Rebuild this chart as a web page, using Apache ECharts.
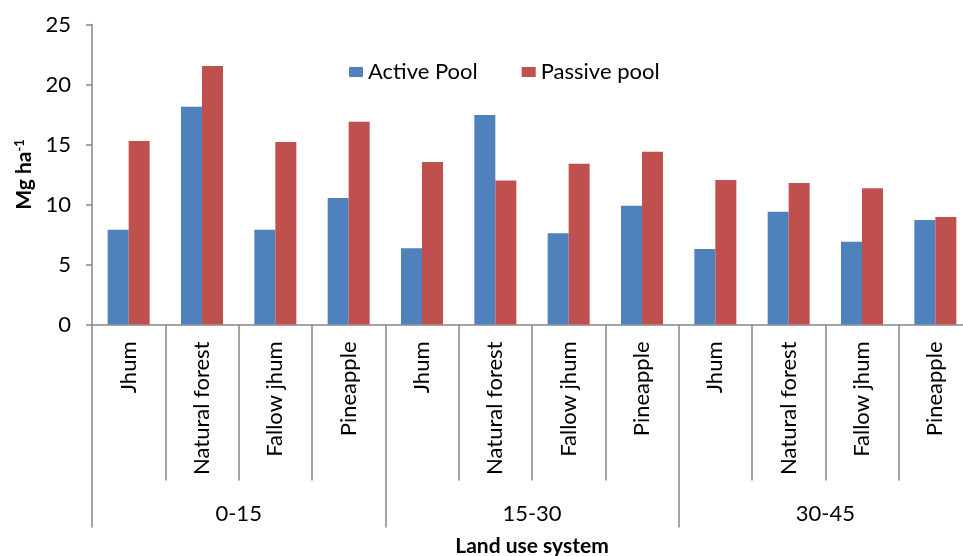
<!DOCTYPE html>
<html>
<head>
<meta charset="utf-8">
<script src="https://cdn.jsdelivr.net/npm/echarts@6/dist/echarts.min.js"></script>
<style>
  html, body { margin: 0; padding: 0; background: #ffffff; }
  #chart { width: 963px; height: 556px; }
</style>
</head>
<body>
<div id="chart"></div>
<script>
// Land use systems, repeated for each soil depth (cm)
const categories = [
  'Jhum', 'Natural forest', 'Fallow jhum', 'Pineapple',
  'Jhum', 'Natural forest', 'Fallow jhum', 'Pineapple',
  'Jhum', 'Natural forest', 'Fallow jhum', 'Pineapple'
];
const depthGroups = ['0-15', '15-30', '30-45'];

// Carbon pools, Mg ha-1
const activePool  = [7.9, 18.15, 7.9, 10.55, 6.35, 17.45, 7.6, 9.9, 6.3, 9.4, 6.9, 8.7];
const passivePool = [15.3, 21.55, 15.2, 16.9, 13.55, 12.0, 13.4, 14.4, 12.05, 11.8, 11.35, 8.95];

const seriesNames = ['Active Pool', 'Passive pool'];
const yMin = 0, yMax = 25, yStep = 5;

const FONT = 'Lato, "Liberation Sans", sans-serif';
const AXIS_GREY = '#868686';

const chart = echarts.init(document.getElementById('chart'), null, { renderer: 'canvas' });

chart.setOption({
  animation: false,
  backgroundColor: '#ffffff',
  textStyle: { fontFamily: FONT },
  // the last depth group runs past the right edge of the canvas
  grid: { left: 92, top: 24.5, width: 880, height: 300, outerBoundsMode: 'none', containLabel: false },
  legend: {
    data: seriesNames,
    left: 344,
    top: 56,
    icon: 'rect',
    itemWidth: 14,
    itemHeight: 10,
    itemGap: 44,
    textStyle: { fontFamily: FONT, fontSize: 22, color: '#000000' }
  },
  xAxis: [
    {
      type: 'category',
      position: 'bottom',
      data: categories,
      axisLine: { show: true, lineStyle: { color: AXIS_GREY, width: 1.5 } },
      axisTick: { show: true, length: 156, interval: 0, lineStyle: { color: AXIS_GREY, width: 1.5 } },
      axisLabel: {
        interval: 0,
        rotate: 90,
        margin: 17,
        fontFamily: FONT,
        fontSize: 22,
        color: '#000000'
      },
      splitLine: { show: false }
    },
    {
      type: 'category',
      position: 'bottom',
      data: depthGroups,
      axisLine: { show: false },
      axisTick: { show: true, length: 203, interval: 0, lineStyle: { color: AXIS_GREY, width: 1.5 } },
      axisLabel: {
        interval: 0,
        margin: 178,
        fontFamily: FONT,
        fontSize: 22,
        color: '#000000'
      },
      splitLine: { show: false },
      name: 'Land use system',
      nameLocation: 'middle',
      nameGap: 211,
      nameTextStyle: { fontFamily: FONT, fontSize: 21, fontWeight: 'bold', color: '#000000' }
    }
  ],
  yAxis: {
    type: 'value',
    min: yMin,
    max: yMax,
    interval: yStep,
    axisLine: { show: true, lineStyle: { color: AXIS_GREY, width: 1.5 } },
    axisTick: { show: true, length: 6, lineStyle: { color: AXIS_GREY, width: 1.5 } },
    axisLabel: { margin: 21, fontFamily: FONT, fontSize: 22, color: '#000000' },
    splitLine: { show: false },
    name: '{a|Mg ha}{s|-1}',
    nameLocation: 'middle',
    nameGap: 56,
    nameRotate: 90,
    nameTextStyle: {
      rich: {
        a: { fontFamily: FONT, fontSize: 21, fontWeight: 'bold', color: '#000000' },
        s: { fontFamily: FONT, fontSize: 13, fontWeight: 'bold', color: '#000000', verticalAlign: 'top' }
      }
    }
  },
  series: [
    {
      name: seriesNames[0],
      type: 'bar',
      xAxisIndex: 0,
      data: activePool,
      barWidth: 21,
      barGap: '0%',
      itemStyle: { color: '#4F81BD' }
    },
    {
      name: seriesNames[1],
      type: 'bar',
      xAxisIndex: 0,
      data: passivePool,
      barWidth: 21,
      barGap: '0%',
      itemStyle: { color: '#C0504D' }
    }
  ]
});
</script>
</body>
</html>
